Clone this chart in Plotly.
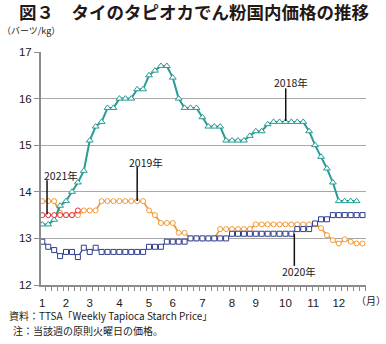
import plotly.graph_objects as go

# ---- data (weekly, index = week slot on the category axis) ----
y2018 = [13.3, 13.3, 13.4, 13.7, 13.8, 14.0, 14.2, 14.45, 15.1, 15.4, 15.5, 15.8, 15.8,
         16.0, 16.0, 16.0, 16.2, 16.2, 16.5, 16.6, 16.7, 16.7, 16.45, 16.0, 15.8, 15.8,
         15.8, 15.6, 15.4, 15.4, 15.4, 15.1, 15.1, 15.1, 15.1, 15.2, 15.3, 15.3, 15.45,
         15.5, 15.5, 15.5, 15.5, 15.5, 15.5, 15.3, 15.0, 14.75, 14.5, 14.2, 13.8, 13.8,
         13.8, 13.8]
y2019 = [13.8, 13.8, 13.8, 13.55, 13.5, 13.5, 13.5, 13.6, 13.6, 13.6, 13.8, 13.8, 13.8,
         13.8, 13.8, 13.8, 13.8, 13.8, 13.6, 13.5, 13.33, 13.33, 13.33, 13.12, 13.12, 13.0,
         13.0, 13.0, 13.0, 13.0, 13.2, 13.2, 13.2, 13.2, 13.2, 13.2, 13.3, 13.3, 13.3,
         13.3, 13.3, 13.3, 13.3, 13.3, 13.3, 13.3, 13.3, 13.22, 13.07, 12.96, 12.89, 12.98,
         12.93, 12.89, 12.89]
y2020 = [12.93, 12.82, 12.75, 12.62, 12.71, 12.71, 12.6, 12.8, 12.71, 12.8, 12.71, 12.71,
         12.71, 12.71, 12.71, 12.71, 12.71, 12.71, 12.82, 12.82, 12.82, 12.93, 12.93, 12.93,
         12.93, 13.0, 13.0, 13.0, 13.0, 13.0, 13.0, 13.0, 13.1, 13.1, 13.1, 13.1, 13.1,
         13.1, 13.1, 13.1, 13.1, 13.1, 13.1, 13.2, 13.2, 13.2, 13.32, 13.41, 13.41, 13.5,
         13.5, 13.5, 13.5, 13.5, 13.5]
y2021 = [13.5, 13.5, 13.5, 13.5, 13.5, 13.5, 13.6]

month_labels = ["1", "2", "3", "4", "5", "6", "7", "8", "9", "10", "11", "12"]
month_pos = [1, 5, 9, 14, 19, 23, 28, 33, 37, 42, 46.7, 51]
y_ticks = [12, 13, 14, 15, 16, 17]

W, H = 386, 344
L, R, T, B = 41, 20, 52, 59
PW, PH = W - L - R, H - T - B

def px(xp):
    return (xp - L) / PW

def py(yp):
    return (H - B - yp) / PH

JP = "Noto Sans CJK JP"
INK = "#231815"

def weeks(vals):
    return list(range(1, len(vals) + 1))

fig = go.Figure()
fig.add_trace(go.Scatter(x=weeks(y2019), y=y2019, mode="lines+markers", name="2019年",
                         line=dict(color="#f29a38", width=1.8),
                         marker=dict(symbol="circle", size=5, color="white",
                                     line=dict(color="#f29a38", width=1))))
fig.add_trace(go.Scatter(x=weeks(y2018), y=y2018, mode="lines+markers", name="2018年",
                         line=dict(color="#279c92", width=2),
                         marker=dict(symbol="triangle-up", size=6, color="white",
                                     line=dict(color="#279c92", width=1))))
fig.add_trace(go.Scatter(x=weeks(y2020), y=y2020, mode="lines+markers", name="2020年",
                         line=dict(color="#2f3d8f", width=1.2),
                         marker=dict(symbol="square", size=5, color="white",
                                     line=dict(color="#2f3d8f", width=1))))
fig.add_trace(go.Scatter(x=weeks(y2021), y=y2021, mode="lines+markers", name="2021年",
                         line=dict(color="#e5303a", width=1.2),
                         marker=dict(symbol="circle", size=5, color="white",
                                     line=dict(color="#e5303a", width=1))))

# leader lines + series labels (data coordinates)
labels = [
    # text, text_x, text_y, line_x, line_y0, line_y1
    ("2018年", 42.9, 16.35, 42.05, 15.52, 16.22),
    ("2019年", 18.5, 14.63, 17.0, 13.8, 14.53),
    ("2021年", 4.15, 14.36, 1.8, 13.52, 14.25),
    ("2020年", 44.3, 12.28, 43.5, 13.1, 12.41),
]
for t, tx, ty, lx, ly0, ly1 in labels:
    fig.add_shape(type="line", x0=lx, x1=lx, y0=ly0, y1=ly1, xref="x", yref="y",
                  line=dict(color="#111111", width=1.5))
    fig.add_annotation(x=tx, y=ty, xref="x", yref="y", text=t, showarrow=False,
                       font=dict(family=JP, size=10.5, color=INK),
                       xanchor="center", yanchor="middle")

fig.add_annotation(x=px(17), y=py(11), xref="paper", yref="paper",
                   text="<b>図３　タイのタピオカでん粉国内価格の推移</b>", showarrow=False,
                   font=dict(family=JP, size=17.5, color=INK), xanchor="left", yanchor="middle")
fig.add_annotation(x=px(0), y=py(30), xref="paper", yref="paper",
                   text="（バーツ/kg）", showarrow=False,
                   font=dict(family=JP, size=9, color=INK), xanchor="left", yanchor="middle")
fig.add_annotation(x=px(371), y=py(300), xref="paper", yref="paper",
                   text="（月）", showarrow=False,
                   font=dict(family=JP, size=10, color=INK), xanchor="center", yanchor="middle")
fig.add_annotation(x=px(7), y=py(315), xref="paper", yref="paper",
                   text="資料：TTSA「Weekly Tapioca Starch Price」", showarrow=False,
                   font=dict(family=JP, size=10, color=INK), xanchor="left", yanchor="middle")
fig.add_annotation(x=px(11), y=py(330), xref="paper", yref="paper",
                   text="注：当該週の原則火曜日の価格。", showarrow=False,
                   font=dict(family=JP, size=10, color=INK), xanchor="left", yanchor="middle")

x0 = 1 - (42.3 - L) / 5.93
fig.update_xaxes(range=[x0, x0 + PW / 5.93], tickmode="array", tickvals=month_pos,
                 ticktext=month_labels, ticks="", showgrid=False, zeroline=False,
                 showline=True, linecolor="#8c8c8c", linewidth=1.5,
                 tickfont=dict(family="Liberation Sans", size=11.5, color=INK),
                 ticklabelstandoff=6,
                 minor=dict(ticks="outside", tick0=0.5, dtick=1, ticklen=4,
                            tickcolor="#8c8c8c", tickwidth=1, showgrid=False))
fig.update_yaxes(range=[12, 17], tickmode="array", tickvals=y_ticks,
                 ticks="outside", ticklen=5, tickcolor="#8c8c8c",
                 showgrid=True, gridcolor="#a8a8a8", gridwidth=1.2, zeroline=False,
                 showline=True, linecolor="#8c8c8c", linewidth=2,
                 tickfont=dict(family="Liberation Sans", size=11.5, color=INK))

fig.update_layout(width=W, height=H, margin=dict(l=L, r=R, t=T, b=B),
                  paper_bgcolor="white", plot_bgcolor="white", showlegend=False)

fig.write_html("out.html")
